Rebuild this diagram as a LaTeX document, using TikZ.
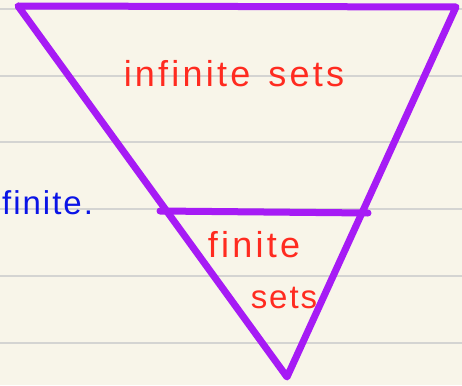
\documentclass[tikz,border=0pt]{standalone}
\usepackage{fontspec}
\setmainfont{Liberation Sans}
\definecolor{paper}{HTML}{F8F5E9}
\definecolor{rule}{HTML}{D4D4D2}
\definecolor{pen}{HTML}{A61BF5}
\definecolor{redink}{HTML}{FF2B20}
\definecolor{blueink}{HTML}{0A14E6}
\tikzset{
  ruling/.style={rule, line width=1.3pt},
  penline/.style={pen, line width=7pt, line cap=round, line join=round},
  hand/.style={inner sep=0pt, font=\fontsize{36}{36}\selectfont\addfontfeature{LetterSpace=9}},
  handsmall/.style={inner sep=0pt, font=\fontsize{33}{33}\selectfont\addfontfeature{LetterSpace=6}}
}
\begin{document}
\begin{tikzpicture}[x=1pt,y=-1pt]
\fill[paper] (0,0) rectangle (462,385);
\useasboundingbox (0,0) rectangle (462,385);
\foreach \yy in {9,76,142,209,276,343} \draw[ruling] (0,\yy) -- (462,\yy);
\coordinate (tl) at (18,6);
\coordinate (tr) at (456,7);
\coordinate (bot) at (287,377);
\coordinate (ml) at (160,211);
\coordinate (mr) at (368,213);
\draw[penline] (tl) -- (tr) -- (bot) -- cycle;
\draw[penline] (ml) -- (mr);
\node[hand, text=redink] (inf) at (234,74) {infinite\hspace{0.5em}sets};
\node[handsmall, text=blueink, anchor=west] (fin) at (2,203) {finite.};
\node[hand, text=redink] (fs1) at (254,245) {finite};
\node[handsmall, text=redink] (fs2) at (284,298) {sets};
\end{tikzpicture}
\end{document}
